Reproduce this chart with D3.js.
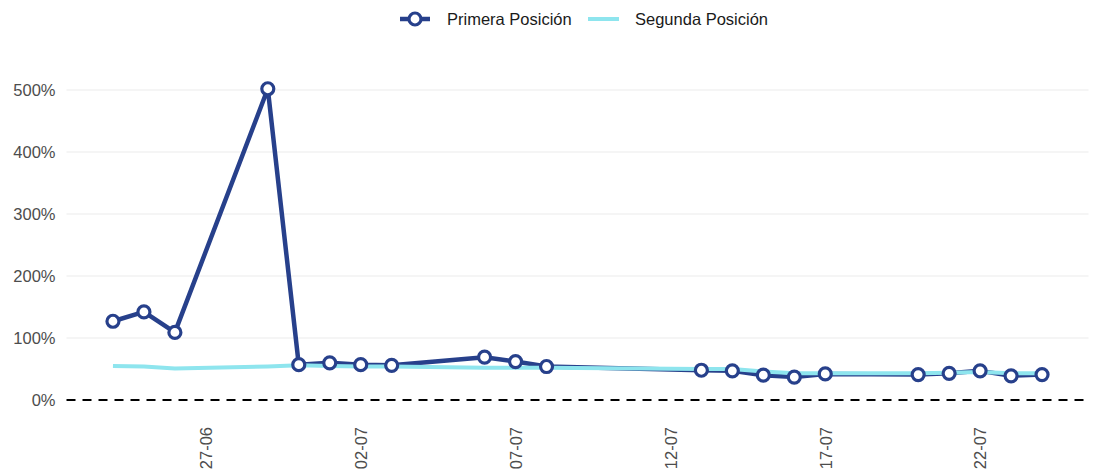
<!DOCTYPE html>
<html>
<head>
<meta charset="utf-8">
<script src="https://cdn.jsdelivr.net/npm/d3@7"></script>
<style>
  html, body { margin: 0; padding: 0; background: #ffffff; }
  svg { display: block; font-family: "Liberation Sans", Arial, sans-serif; }
</style>
</head>
<body>
<svg id="chart" width="1095" height="470"></svg>
<script>
const dates = ["2020-06-24","2020-06-25","2020-06-26","2020-06-29","2020-06-30","2020-07-01","2020-07-02","2020-07-03","2020-07-06","2020-07-07","2020-07-08","2020-07-13","2020-07-14","2020-07-15","2020-07-16","2020-07-17","2020-07-20","2020-07-21","2020-07-22","2020-07-23","2020-07-24"];
const primera = [127,142,109,502,57,60,57,56,69,62,54,48,47,40,37,42,41,43,47,39,41];
const segunda = [55,54,51,54,56,55,54,54,52,52,52,50,50,46,43,43,43,44,45,43,43];
const xTickDates = ["2020-06-27","2020-07-02","2020-07-07","2020-07-12","2020-07-17","2020-07-22"];
const yTicks = [0,100,200,300,400,500];
const seriesNames = ["Primera Posición","Segunda Posición"];

const parse = d3.timeParse("%Y-%m-%d");
const fmt = d3.timeFormat("%d-%m");
const dts = dates.map(parse);
const DAY = 864e5;

const svg = d3.select("#chart");
const left = 66.5, right = 1088.5;
const x = d3.scaleTime()
  .domain([new Date(dts[0].getTime() - 1.5*DAY), new Date(dts[dts.length-1].getTime() + 1.5*DAY)])
  .range([left, right]);
const y = d3.scaleLinear().domain([0,500]).range([400,90]);

const blue = "#27408B", cyan = "#8EE5EE";

// gridlines
svg.append("g").selectAll("line").data(yTicks.filter(v=>v>0)).join("line")
  .attr("x1", left).attr("x2", right)
  .attr("y1", d=>y(d)).attr("y2", d=>y(d))
  .attr("stroke", "#ebebeb").attr("stroke-width", 1);

// y axis
const yAxis = svg.append("g").attr("transform", `translate(${left},0)`)
  .call(d3.axisLeft(y).tickValues(yTicks).tickFormat(d=>d+"%").tickSize(0).tickPadding(11));
yAxis.select(".domain").remove();
yAxis.selectAll("text").attr("fill","#4d4d4d").style("font-size","16.5px")
  .style("font-family","Liberation Sans, Arial, sans-serif");

// x axis
const xAxis = svg.append("g").attr("transform", `translate(0,415)`)
  .call(d3.axisBottom(x).tickValues(xTickDates.map(parse)).tickFormat(fmt).tickSize(0));
xAxis.select(".domain").remove();
xAxis.selectAll("text")
  .attr("fill","#4d4d4d").style("font-size","16.5px")
  .style("font-family","Liberation Sans, Arial, sans-serif")
  .attr("transform","rotate(-90)")
  .attr("text-anchor","end")
  .attr("x", -12).attr("y", 0).attr("dy","0.35em");

// zero dashed line
svg.append("line").attr("x1", left).attr("x2", right)
  .attr("y1", y(0)).attr("y2", y(0))
  .attr("stroke", "#000").attr("stroke-width", 2).attr("stroke-dasharray", "9,7");

const line = d3.line().x((d,i)=>x(dts[i])).y(d=>y(d));

svg.append("path").datum(primera).attr("d", line)
  .attr("fill","none").attr("stroke", blue).attr("stroke-width", 4.5)
  .attr("stroke-linejoin","round");
svg.append("path").datum(segunda).attr("d", line)
  .attr("fill","none").attr("stroke", cyan).attr("stroke-width", 4)
  .attr("stroke-linejoin","round");

svg.append("g").selectAll("circle").data(primera).join("circle")
  .attr("cx", (d,i)=>x(dts[i])).attr("cy", d=>y(d)).attr("r", 6)
  .attr("fill","#fff").attr("stroke", blue).attr("stroke-width", 3.2);

// legend
const lg = svg.append("g");
lg.append("line").attr("x1",400).attr("x2",430).attr("y1",19).attr("y2",19)
  .attr("stroke",blue).attr("stroke-width",4.5);
lg.append("circle").attr("cx",415).attr("cy",19).attr("r",6)
  .attr("fill","#fff").attr("stroke",blue).attr("stroke-width",3.2);
lg.append("text").attr("x",447).attr("y",19).attr("dy","0.35em")
  .style("font-size","16.5px").attr("fill","#1a1a1a").text(seriesNames[0]);
lg.append("line").attr("x1",588).attr("x2",619).attr("y1",19).attr("y2",19)
  .attr("stroke",cyan).attr("stroke-width",4);
lg.append("text").attr("x",635).attr("y",19).attr("dy","0.35em")
  .style("font-size","16.5px").attr("fill","#1a1a1a").text(seriesNames[1]);
</script>
</body>
</html>
